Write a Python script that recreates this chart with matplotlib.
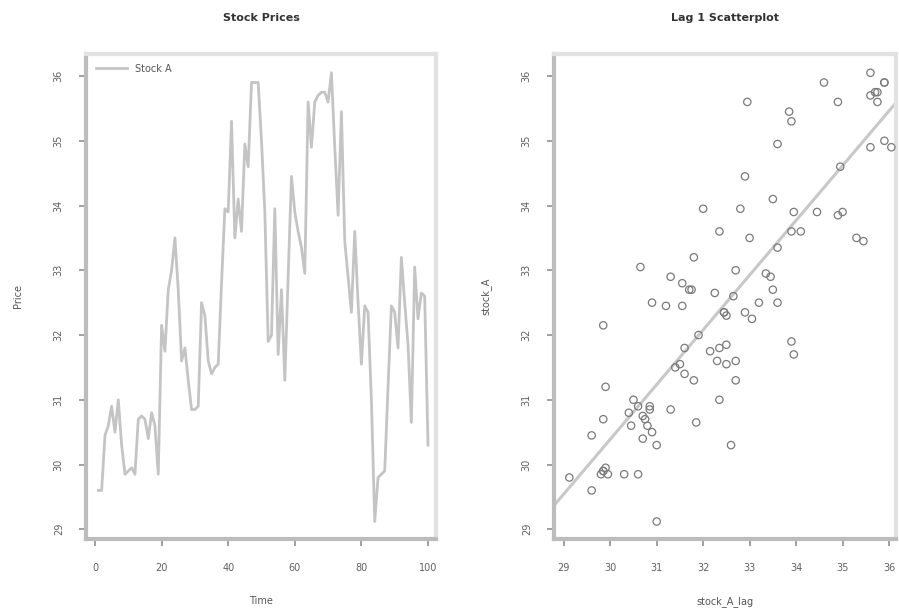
import numpy as np
import matplotlib
matplotlib.use("Agg")
import matplotlib.pyplot as plt

# ---- data ----
time = list(range(1, 101))
stock_A = [
    29.6, 29.6, 30.45, 30.6, 30.9, 30.5, 31.0, 30.3, 29.85, 29.9,        # 1-10
    29.95, 29.85, 30.7, 30.75, 30.7, 30.4, 30.8, 30.6, 29.85, 32.15,     # 11-20
    31.75, 32.7, 33.0, 33.5, 32.7, 31.6, 31.8, 31.3, 30.85, 30.85,       # 21-30
    30.9, 32.5, 32.3, 31.6, 31.4, 31.5, 31.55, 32.8, 33.95, 33.9,        # 31-40
    35.3, 33.5, 34.1, 33.6, 34.95, 34.6, 35.9, 35.9, 35.9, 35.0,         # 41-50
    33.9, 31.9, 32.0, 33.95, 31.7, 32.7, 31.3, 32.9, 34.45, 33.9,        # 51-60
    33.6, 33.35, 32.95, 35.6, 34.9, 35.6, 35.7, 35.75, 35.75, 35.6,      # 61-70
    36.05, 34.9, 33.85, 35.45, 33.45, 32.9, 32.35, 33.6, 32.5, 31.55,    # 71-80
    32.45, 32.35, 31.0, 29.12, 29.8, 29.85, 29.9, 31.2, 32.45, 32.35,    # 81-90
    31.8, 33.2, 32.5, 31.85, 30.65, 33.05, 32.25, 32.65, 32.6, 30.3,     # 91-100
]
left_title = "Stock Prices"
right_title = "Lag 1 Scatterplot"
series_label = "Stock A"
left_xticks = [0, 20, 40, 60, 80, 100]
price_ticks = [29, 30, 31, 32, 33, 34, 35, 36]

lag_x = np.array(stock_A[:-1])
lag_y = np.array(stock_A[1:])
slope, intercept = np.polyfit(lag_x, lag_y, 1)

# ---- styling ----
W, H = 899, 611
fig = plt.figure(figsize=(W / 100, H / 100), dpi=100)
plt.rcParams['font.family'] = ['DejaVu Sans']

def px_axes(l, t, r, b):
    return fig.add_axes([l / W, 1 - b / H, (r - l) / W, (b - t) / H])

def style(ax):
    for s in ax.spines.values():
        s.set_color('#e2e2e2')
        s.set_linewidth(3.0)
    for s in ('left', 'bottom'):
        ax.spines[s].set_color('#bcbcbc')
        ax.spines[s].set_linewidth(3.0)
    ax.tick_params(axis='both', direction='out', length=5, width=1.2,
                   color='#909090', labelsize=7, labelcolor='#606060')
    ax.tick_params(axis='x', pad=12)
    ax.tick_params(axis='y', pad=11)
    for lab in ax.get_yticklabels():
        lab.set_rotation(90)
        lab.set_va('center')

ax1 = px_axes(86, 54, 436, 539)
ax1.plot(time, stock_A, color='#c4c4c4', lw=2.0, label=series_label)
ax1.set_xlim(-2.7, 102.4)
ax1.set_ylim(28.85, 36.34)
ax1.set_xticks(left_xticks)
ax1.set_yticks(price_ticks)
style(ax1)
ax1.set_title(left_title, fontsize=8, fontweight='bold', color='#333333', pad=24)
ax1.set_xlabel("Time", fontsize=7, color='#555555', labelpad=17)
ax1.set_ylabel("Price", fontsize=7, color='#555555', labelpad=22)
ax1.legend(loc='upper left', frameon=False, fontsize=7, labelcolor='#555555',
           handlelength=3.2, borderaxespad=0.6)

ax2 = px_axes(554, 54, 896, 539)
ax2.scatter(lag_x, lag_y, s=28, facecolors='none', edgecolors='#7a7a7a', linewidths=0.9, zorder=3)
ax2.axline((0, intercept), slope=slope, color='#c8c8c8', lw=2.2, zorder=2)
ax2.set_xlim(28.79, 36.15)
ax2.set_ylim(28.85, 36.34)
ax2.set_xticks(price_ticks)
ax2.set_yticks(price_ticks)
style(ax2)
ax2.set_title(right_title, fontsize=8, fontweight='bold', color='#333333', pad=24)
ax2.set_xlabel("stock_A_lag", fontsize=7, color='#555555', labelpad=17)
ax2.set_ylabel("stock_A", fontsize=7, color='#555555', labelpad=22)

fig.savefig("out.png", dpi=100)
